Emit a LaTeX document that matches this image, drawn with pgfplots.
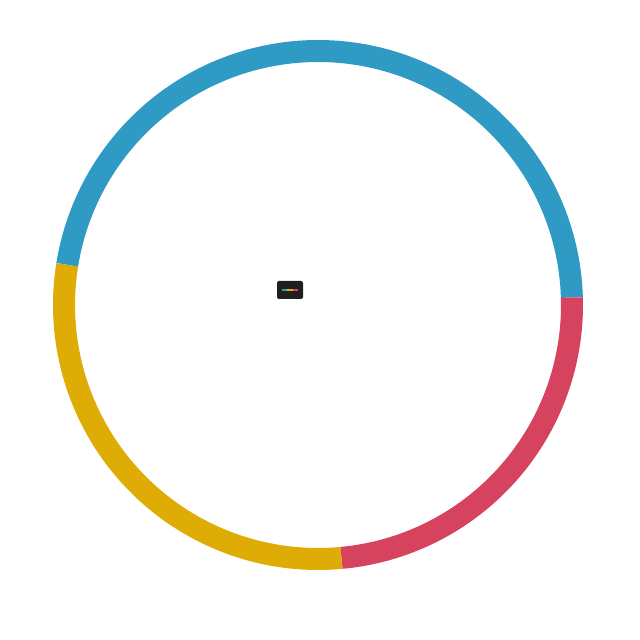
\documentclass[border=0pt]{standalone}
\usepackage{pgfplots}
\usepackage{pgfplotstable}
\pgfplotsset{compat=1.18}
\definecolor{cblue}{HTML}{2F9AC3}
\definecolor{cred}{HTML}{D6435F}
\definecolor{cyellow}{HTML}{DFAB05}
\definecolor{boxdark}{HTML}{1F1F1F}
\pgfplotstableread{
label value
A 47
B 24
C 29
}\donutdata
\begin{document}
\begin{tikzpicture}
\pgfplotstablegetelem{0}{value}\of\donutdata \let\vA\pgfplotsretval
\pgfplotstablegetelem{1}{value}\of\donutdata \let\vB\pgfplotsretval
\pgfplotstablegetelem{2}{value}\of\donutdata \let\vC\pgfplotsretval
\pgfmathsetmacro\aA{170.9}
\pgfmathsetmacro\aB{\aA-\vA*3.6}
\pgfmathsetmacro\aC{\aB-\vB*3.6}
\pgfmathsetmacro\aD{\aC-\vC*3.6}
\begin{axis}[width=16cm,height=16cm,scale only axis,hide axis,
  xmin=0,xmax=640,ymin=0,ymax=640,clip=false]
\addplot[cblue,line width=5.5mm,no markers,domain=\aB:\aA,samples=120]
  ({318+254*cos(x)},{335+254*sin(x)});
\addplot[cred,line width=5.5mm,no markers,domain=\aC:\aB,samples=80]
  ({318+254*cos(x)},{335+254*sin(x)});
\addplot[cyellow,line width=5.5mm,no markers,domain=\aD:\aC,samples=90]
  ({318+254*cos(x)},{335+254*sin(x)});
\fill[boxdark,rounded corners=0.5mm] (axis cs:277,341) rectangle (axis cs:303,359);
\draw[cblue,line width=0.5mm] (axis cs:282,350) -- (axis cs:287,350);
\draw[cyellow,line width=0.5mm] (axis cs:287,350) -- (axis cs:293,350);
\draw[cred,line width=0.5mm] (axis cs:293,350) -- (axis cs:298,350);
\end{axis}
\path (0,0) rectangle (16cm,16cm);
\end{tikzpicture}
\end{document}
